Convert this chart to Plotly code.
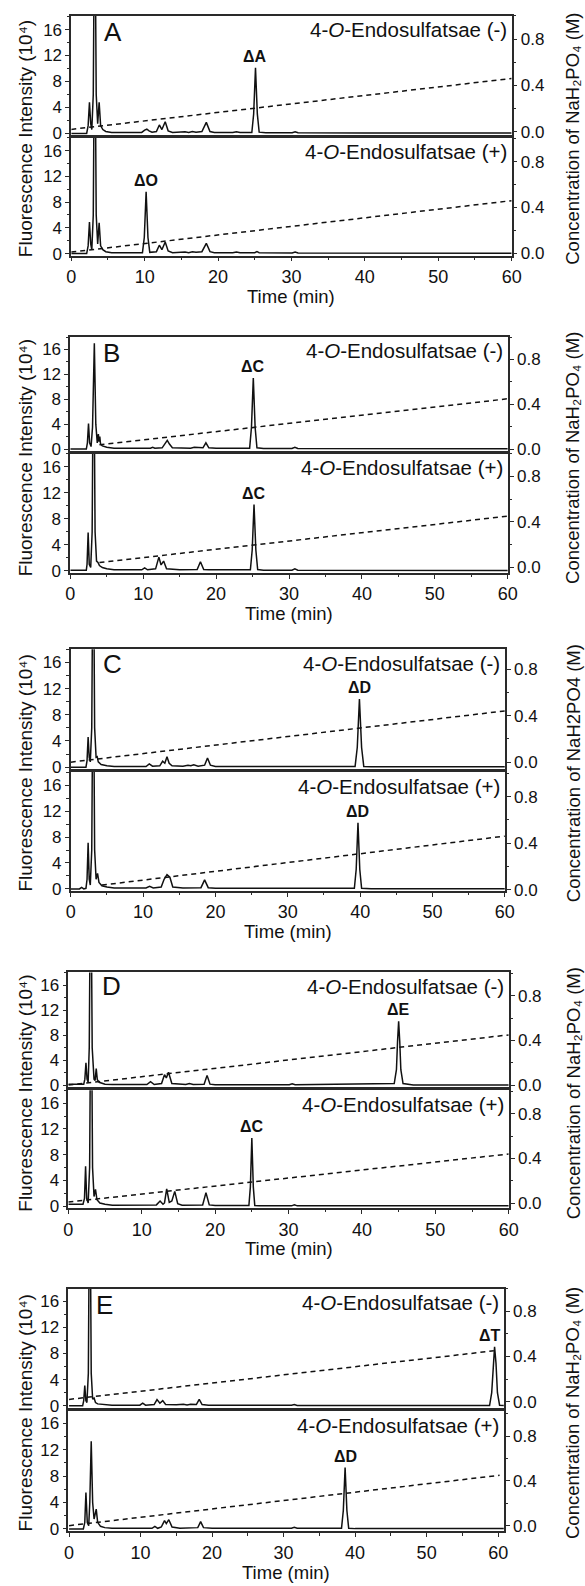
import plotly.graph_objects as go

W, H = 585, 1586

# ---------------- data ----------------
time_ticks = [0, 10, 20, 30, 40, 50, 60]
fl_ticks = [0, 4, 8, 12, 16]
conc_ticks = [0.0, 0.4, 0.8]

# Panel A
A_minus_time = [0, 2.1, 2.3, 2.48, 2.65, 2.8, 3.0, 3.2, 3.4, 3.6, 3.8, 4.0, 4.3, 4.7, 5.5, 9.6, 10.0, 10.3, 10.6, 11.0,
                11.6, 12.0, 12.35, 12.8, 13.2, 13.8, 15.5, 16.0, 16.5, 17.0, 17.8, 18.4, 18.9, 19.5, 22.0, 22.5, 23.0,
                24.6, 24.85, 25.1, 25.35, 25.6, 26.5, 30.1, 30.5, 30.9, 40.0, 50.0, 60.0]
A_minus_signal = [0, 0, 1.2, 4.8, 1.5, 0.6, 6.0, 40, 6.0, 1.5, 4.8, 1.2, 0.6, 0.3, 0.15, 0.15, 0.5, 0.65, 0.4, 0.2,
                  0.3, 1.3, 0.6, 1.8, 0.4, 0.15, 0.25, 0.15, 0.3, 0.2, 0.3, 1.7, 0.3, 0.15, 0.15, 0.25, 0.15,
                  0.15, 3.0, 10.1, 3.0, 0.2, 0.1, 0.1, 0.25, 0.1, 0.05, 0.05, 0.05]
A_plus_time = [0, 2.1, 2.3, 2.48, 2.65, 2.8, 3.0, 3.2, 3.4, 3.6, 3.8, 4.0, 4.3, 4.7, 5.5, 9.7, 9.95, 10.2, 10.45, 10.7,
               11.6, 12.0, 12.35, 12.8, 13.2, 13.8, 15.5, 16.0, 16.5, 17.0, 17.8, 18.4, 18.9, 19.5, 22.0, 22.5, 23.0,
               25.0, 25.3, 25.6, 30.1, 30.5, 30.9, 40.0, 50.0, 60.0]
A_plus_signal = [0, 0, 1.2, 4.9, 1.5, 0.6, 6.0, 40, 6.0, 1.5, 4.8, 1.2, 0.6, 0.3, 0.15, 0.15, 2.5, 9.6, 2.5, 0.2,
                 0.3, 1.3, 0.6, 1.8, 0.4, 0.15, 0.25, 0.15, 0.3, 0.2, 0.3, 1.6, 0.3, 0.15, 0.15, 0.25, 0.15,
                 0.15, 0.3, 0.15, 0.1, 0.25, 0.1, 0.05, 0.05, 0.05]

# Panel B
B_minus_time = [0, 2.2, 2.35, 2.5, 2.65, 2.85, 3.05, 3.3, 3.5, 3.7, 3.85, 3.95, 4.05, 4.15, 4.4, 5.0, 6.0, 11.0, 11.3,
                11.6, 12.6, 13.0, 13.3, 13.6, 14.0, 16.5, 17.0, 18.2, 18.6, 19.0, 20.0, 24.6, 24.85, 25.1, 25.35,
                25.6, 26.5, 30.4, 30.8, 31.2, 40.0, 50.0, 60.0]
B_minus_signal = [0, 0, 1.0, 4.1, 1.0, 0.4, 3.5, 17.0, 4.0, 1.0, 2.4, 1.2, 2.0, 0.8, 0.5, 0.3, 0.15, 0.15, 0.3,
                  0.15, 0.2, 0.9, 1.4, 0.8, 0.2, 0.15, 0.3, 0.2, 1.0, 0.2, 0.15, 0.15, 3.5, 11.4, 3.5,
                  0.2, 0.1, 0.1, 0.3, 0.1, 0.05, 0.05, 0.05]
B_plus_time = [0, 2.2, 2.3, 2.45, 2.6, 2.8, 3.0, 3.2, 3.4, 3.6, 3.8, 4.0, 4.4, 5.0, 6.0, 9.8, 10.2, 10.6, 11.7, 12.15,
               12.45, 12.8, 13.2, 15.0, 17.4, 17.85, 18.3, 19.0, 24.7, 24.95, 25.2, 25.45, 25.7, 26.5, 30.4, 30.8,
               31.2, 40.0, 50.0, 60.0]
B_plus_signal = [0.1, 0.1, 1.0, 5.9, 1.0, 0.5, 6.0, 40, 6.0, 1.5, 1.3, 0.8, 0.5, 0.3, 0.15, 0.15, 0.45, 0.15, 0.3, 2.1,
                 0.9, 1.5, 0.3, 0.15, 0.2, 1.4, 0.2, 0.15, 0.15, 3.2, 10.2, 3.2, 0.2, 0.1, 0.1, 0.3,
                 0.1, 0.05, 0.05, 0.05]

# Panel C
C_minus_time = [0, 2.1, 2.25, 2.4, 2.55, 2.7, 2.9, 3.1, 3.3, 3.5, 3.65, 3.8, 4.2, 5.0, 6.0, 10.4, 10.85, 11.3, 12.3,
                12.7, 13.0, 13.3, 13.6, 14.0, 15.5, 16.2, 16.6, 17.0, 17.6, 18.5, 18.9, 19.3, 20.0, 23.0, 23.5,
                24.0, 39.3, 39.6, 39.9, 40.2, 40.5, 41.5, 50.0, 60.0]
C_minus_signal = [0, 0, 1.0, 4.6, 1.5, 0.8, 6.0, 40, 6.0, 1.5, 1.6, 0.8, 0.4, 0.2, 0.1, 0.1, 0.5, 0.15, 0.2,
                  0.9, 0.6, 1.6, 0.6, 0.2, 0.15, 0.3, 0.2, 0.35, 0.15, 0.3, 1.4, 0.3, 0.1, 0.1, 0.2,
                  0.1, 0.1, 3.0, 10.4, 3.0, 0.1, 0.05, 0.05, 0.05]
C_plus_time = [0, 1.2, 1.5, 1.8, 2.1, 2.25, 2.4, 2.55, 2.7, 2.9, 3.1, 3.3, 3.5, 3.7, 3.9, 4.3, 5.0, 6.0, 10.4, 10.9,
               11.4, 12.5, 12.9, 13.3, 13.7, 14.1, 15.5, 16.5, 18.0, 18.5, 19.0, 20.0, 24.0, 24.5, 25.0, 39.2,
               39.45, 39.7, 39.95, 40.2, 41.5, 50.0, 60.0]
C_plus_signal = [0, 0, 0.25, 0, 0.1, 1.5, 7.1, 1.5, 0.6, 6.0, 40, 6.0, 1.5, 2.4, 1.0, 0.5, 0.3, 0.15, 0.15, 0.4,
                 0.15, 0.3, 1.5, 2.2, 1.8, 0.3, 0.15, 0.2, 0.2, 1.4, 0.2, 0.1, 0.1, 0.2, 0.1, 0.1,
                 3.0, 10.2, 3.0, 0.1, 0.05, 0.05, 0.05]

# Panel D
D_minus_time = [0, 2.1, 2.25, 2.4, 2.55, 2.7, 2.85, 3.05, 3.25, 3.5, 3.65, 3.8, 3.95, 4.2, 5.0, 6.0, 10.7, 11.2, 11.7,
                12.7, 13.1, 13.35, 13.65, 14.1, 16.0, 16.5, 17.0, 18.5, 18.9, 19.3, 20.0, 23.5, 30.1, 30.5, 30.9,
                44.4, 44.7, 44.85, 45.0, 45.15, 45.3, 45.6, 47.0, 60.0]
D_minus_signal = [0.2, 0.2, 1.0, 3.6, 1.0, 0.5, 6.0, 40, 6.0, 1.0, 0.8, 2.7, 0.9, 0.5, 0.2, 0.15, 0.15, 0.6, 0.15,
                  0.3, 1.7, 1.2, 2.1, 0.3, 0.15, 0.3, 0.15, 0.2, 1.6, 0.2, 0.1, 0.1, 0.1, 0.25, 0.1,
                  0.3, 2.5, 7.0, 10.2, 7.0, 2.5, 0.3, 0.05, 0.05]
D_plus_time = [0, 2.0, 2.2, 2.35, 2.5, 2.7, 2.9, 3.1, 3.3, 3.5, 3.7, 3.9, 4.3, 5.0, 6.0, 12.0, 12.5, 12.9, 13.1, 13.4,
               13.75, 14.1, 14.5, 14.9, 15.5, 18.3, 18.75, 19.2, 20.0, 24.6, 24.8, 25.0, 25.2, 25.4, 26.0, 30.4,
               30.8, 31.2, 40.0, 50.0, 60.0]
D_plus_signal = [0.3, 0.3, 1.2, 6.2, 1.2, 0.5, 6.0, 40, 6.0, 1.5, 2.6, 1.0, 0.5, 0.3, 0.15, 0.2, 0.8, 0.3, 0.5, 2.7,
                 0.6, 0.8, 2.3, 0.4, 0.15, 0.2, 2.1, 0.2, 0.1, 0.1, 3.0, 10.6, 3.0, 0.1, 0.05, 0.05,
                 0.2, 0.05, 0.05, 0.05, 0.05]

# Panel E
E_minus_time = [0, 1.9, 2.05, 2.2, 2.35, 2.5, 2.7, 2.9, 3.1, 3.3, 3.5, 3.7, 4.0, 5.0, 6.0, 9.9, 10.3, 10.7, 11.9,
                12.3, 12.7, 13.1, 13.5, 15.0, 16.0, 16.5, 17.0, 17.8, 18.2, 18.6, 19.5, 31.1, 31.5, 31.9, 58.8,
                59.1, 59.3, 59.5, 59.7, 59.9, 60.2, 60.8]
E_minus_signal = [0, 0, 0.8, 3.1, 0.8, 0.5, 5.0, 40, 5.0, 1.0, 1.2, 0.5, 0.3, 0.15, 0.1, 0.1, 0.4, 0.1, 0.2,
                  0.95, 0.4, 0.8, 0.2, 0.15, 0.25, 0.15, 0.25, 0.2, 1.0, 0.2, 0.1, 0.1, 0.2, 0.05, 0.05,
                  2.0, 6.5, 9.0, 6.5, 2.0, 0.1, 0.05]
E_plus_time = [0, 2.0, 2.2, 2.36, 2.55, 2.75, 2.9, 3.1, 3.3, 3.5, 3.8, 4.0, 4.4, 5.0, 6.0, 11.6, 12.0, 12.4, 12.9,
               13.35, 13.6, 13.95, 14.4, 15.5, 18.0, 18.4, 18.8, 20.0, 31.1, 31.5, 31.9, 38.1, 38.35, 38.6, 38.85,
               39.1, 40.0, 50.0, 60.8]
E_plus_signal = [0, 0, 1.0, 5.5, 1.0, 0.5, 4.0, 13.3, 4.0, 1.5, 3.0, 1.0, 0.4, 0.2, 0.1, 0.1, 0.4, 0.1, 0.3,
                 1.25, 0.8, 1.4, 0.3, 0.1, 0.2, 1.1, 0.2, 0.1, 0.1, 0.25, 0.1, 0.1, 2.8, 9.3, 2.8,
                 0.1, 0.05, 0.05, 0.05]

# NaH2PO4 gradients (dashed lines): [start, end] time and concentration
A_minus_grad_time, A_minus_grad_conc = [0, 60], [0.02, 0.46]
A_plus_grad_time, A_plus_grad_conc = [0, 60], [0.01, 0.46]
B_minus_grad_time, B_minus_grad_conc = [4, 60], [0.04, 0.45]
B_plus_grad_time, B_plus_grad_conc = [4, 60], [0.04, 0.45]
C_minus_grad_time, C_minus_grad_conc = [0, 60], [0.0, 0.44]
C_plus_grad_time, C_plus_grad_conc = [4.3, 60], [0.04, 0.46]
D_minus_grad_time, D_minus_grad_conc = [0, 60], [0.0, 0.45]
D_plus_grad_time, D_plus_grad_conc = [0, 60], [0.01, 0.44]
E_minus_grad_time, E_minus_grad_conc = [0, 59.4], [0.02, 0.45]
E_plus_grad_time, E_plus_grad_conc = [0, 60.2], [0.0, 0.45]

# Peak labels
peak_names = ["ΔA", "ΔO", "ΔC", "ΔC", "ΔD", "ΔD", "ΔE", "ΔC", "ΔT", "ΔD"]
peak_times = [25.1, 10.2, 25.1, 25.2, 39.9, 39.7, 45.0, 25.0, 59.5, 38.6]
peak_heights = [10.1, 9.6, 11.4, 10.2, 10.4, 10.2, 10.2, 10.6, 9.0, 9.3]

panel_letters = ["A", "B", "C", "D", "E"]
condition_labels = ["4-<i>O</i>-Endosulfatsae (-)", "4-<i>O</i>-Endosulfatsae (+)"]
left_title = "Fluorescence Intensity (10\u2074)"
right_titles = ["Concentration of NaH\u2082PO\u2084 (M)"] * 2 + ["Concentration of NaH2PO4 (M)"] + \
               ["Concentration of NaH\u2082PO\u2084 (M)"] * 2
x_title = "Time (min)"

series = [
    (A_minus_time, A_minus_signal, A_minus_grad_time, A_minus_grad_conc),
    (A_plus_time, A_plus_signal, A_plus_grad_time, A_plus_grad_conc),
    (B_minus_time, B_minus_signal, B_minus_grad_time, B_minus_grad_conc),
    (B_plus_time, B_plus_signal, B_plus_grad_time, B_plus_grad_conc),
    (C_minus_time, C_minus_signal, C_minus_grad_time, C_minus_grad_conc),
    (C_plus_time, C_plus_signal, C_plus_grad_time, C_plus_grad_conc),
    (D_minus_time, D_minus_signal, D_minus_grad_time, D_minus_grad_conc),
    (D_plus_time, D_plus_signal, D_plus_grad_time, D_plus_grad_conc),
    (E_minus_time, E_minus_signal, E_minus_grad_time, E_minus_grad_conc),
    (E_plus_time, E_plus_signal, E_plus_grad_time, E_plus_grad_conc),
]

# ---------------- geometry (pixels) ----------------
panel_top = [16, 339, 653, 978, 1296]
panel_mid = [137, 455, 775, 1095, 1418]
panel_bot = [257, 576, 896, 1215, 1540]
panel_left = [68, 67, 67.5, 65, 65]
panel_right = [520, 516, 513, 517, 512]
x_ranges = [[0, 60], [0, 60], [0, 60], [0, 60], [-0.1, 60.8]]
left_ranges = [[-0.2, 18.1], [-0.3, 18.0], [-0.3, 18.0], [-0.3, 18.0], [-0.3, 18.0],
               [-0.3, 18.0], [-0.3, 18.0], [-0.3, 18.0], [-0.4, 17.9], [-0.35, 17.8]]
right_ranges = [[-0.026, 1.0], [-0.02, 1.01], [-0.015, 1.0], [-0.05, 1.0], [-0.06, 0.97],
                [-0.01, 1.01], [-0.02, 1.01], [-0.044, 1.01], [-0.06, 1.0], [-0.05, 1.02]]
letter_pos = [(100, 32), (99, 355), (99, 668), (97, 992), (91, 1312)]

FONT = "Liberation Sans, Arial, sans-serif"
INK = "#111111"
AX = "#2a2a2a"

fig = go.Figure()
layout = dict(
    width=W, height=H, autosize=False,
    margin=dict(l=0, r=0, t=0, b=0, pad=0),
    paper_bgcolor="white", plot_bgcolor="white",
    font=dict(family=FONT, color=INK, size=16),
    showlegend=False,
)
annotations = []


def py(p):
    return 1 - p / H


for n in range(1, 11):
    p = (n - 1) // 2
    is_plus = (n - 1) % 2 == 1
    t, s, gt, gc = series[n - 1]
    xs = "" if n == 1 else str(n)
    ys = "" if n == 1 else str(n)
    yr = str(n + 10)
    if is_plus:
        top, bot = panel_mid[p] + 1.5, panel_bot[p]
    else:
        top, bot = panel_top[p], panel_mid[p] - 1.5
    ydom = [py(bot), py(top)]
    xdom = [panel_left[p] / W, panel_right[p] / W]

    fig.add_trace(go.Scatter(x=t, y=s, mode="lines", xaxis="x" + xs, yaxis="y" + ys,
                             line=dict(color=INK, width=1.5), hoverinfo="skip"))
    fig.add_trace(go.Scatter(x=gt, y=gc, mode="lines", xaxis="x" + xs, yaxis="y" + yr,
                             line=dict(color=INK, width=1.5, dash="5px,4px"), hoverinfo="skip"))

    layout["xaxis" + xs] = dict(
        domain=xdom, range=x_ranges[p], anchor="y" + ys,
        showline=True, linecolor=AX, linewidth=1.6, mirror=True,
        showgrid=False, zeroline=False,
        tickmode="array", tickvals=time_ticks,
        ticks="outside" if is_plus else "", ticklen=4, tickwidth=1.2, tickcolor=AX,
        showticklabels=is_plus, tickfont=dict(size=18, color=INK),
        minor=dict(ticks="outside" if is_plus else "", dtick=5, tick0=0, ticklen=2.5, tickwidth=1, tickcolor=AX),
    )
    layout["yaxis" + ys] = dict(
        domain=ydom, range=left_ranges[n - 1], anchor="x" + xs, side="left",
        showline=True, linecolor=AX, linewidth=1.6,
        showgrid=False, zeroline=False,
        tickmode="array", tickvals=fl_ticks, ticks="outside", ticklen=4, tickwidth=1.2, tickcolor=AX,
        tickfont=dict(size=17, color=INK),
        minor=dict(ticks="outside", dtick=2, tick0=0, ticklen=2.5, tickwidth=1, tickcolor=AX),
    )
    layout["yaxis" + yr] = dict(
        overlaying="y" + ys, range=right_ranges[n - 1], anchor="x" + xs, side="right",
        showline=True, linecolor=AX, linewidth=1.6,
        showgrid=False, zeroline=False,
        tickmode="array", tickvals=conc_ticks, ticktext=["%.1f" % v for v in conc_ticks],
        ticks="outside", ticklen=4, tickwidth=1.2, tickcolor=AX,
        tickfont=dict(size=17, color=INK),
        minor=dict(ticks="outside", dtick=0.2, tick0=0, ticklen=2.5, tickwidth=1, tickcolor=AX),
    )

    # condition label
    annotations.append(dict(
        xref="paper", yref="paper", x=(panel_right[p] - 3) / W, y=py(top + 14),
        xanchor="right", yanchor="middle", showarrow=False,
        text=condition_labels[1 if is_plus else 0], font=dict(size=20.5, color=INK)))
    # peak label
    annotations.append(dict(
        xref="x" + xs, yref="y" + ys, x=peak_times[n - 1], y=peak_heights[n - 1],
        xanchor="center", yanchor="bottom", yshift=1, xshift=-5 if n == 9 else 0, showarrow=False,
        text="<b>%s</b>" % peak_names[n - 1], font=dict(size=16, color=INK)))

for p in range(5):
    lx, ly = letter_pos[p]
    annotations.append(dict(xref="paper", yref="paper", x=lx / W, y=py(ly), xanchor="left", yanchor="middle",
                            showarrow=False, text=panel_letters[p], font=dict(size=26, color=INK)))
    cy = (panel_top[p] + panel_bot[p]) / 2 + 3
    annotations.append(dict(xref="paper", yref="paper", x=21 / W, y=py(cy), xanchor="center", yanchor="middle",
                            showarrow=False, textangle=-90, text=left_title, font=dict(size=19, color=INK)))
    annotations.append(dict(xref="paper", yref="paper", x=583 / W, y=py(cy), xanchor="center", yanchor="middle",
                            showarrow=False, textangle=-90, text=right_titles[p], font=dict(size=18.5, color=INK)))
    cx = (panel_left[p] + panel_right[p]) / 2
    annotations.append(dict(xref="paper", yref="paper", x=cx / W, y=py(panel_bot[p] + 41), xanchor="center",
                            yanchor="middle", showarrow=False, text=x_title, font=dict(size=18.5, color=INK)))

layout["annotations"] = annotations
fig.update_layout(**layout)
fig.write_html("out.html", config={"displayModeBar": False},
               post_script="document.body.style.margin='0';")
